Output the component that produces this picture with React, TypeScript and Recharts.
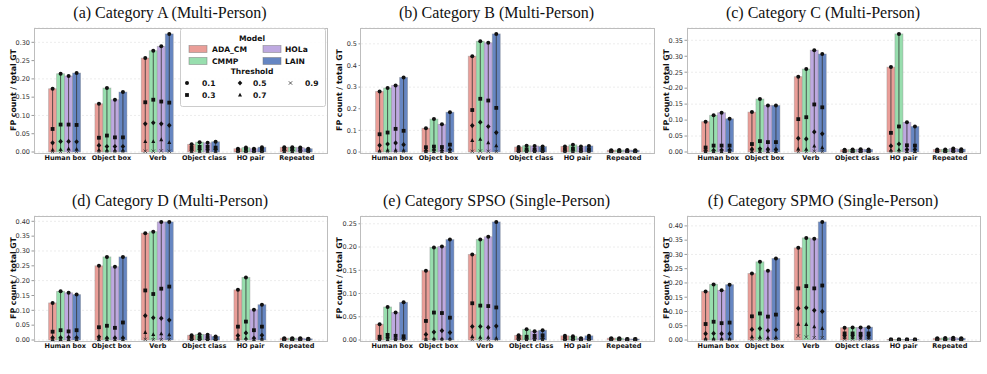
import React from "react";
import { BarChart, Bar, XAxis, YAxis, CartesianGrid } from "recharts";

const categories = ["Human box", "Object box", "Verb", "Object class", "HO pair", "Repeated"];
const models = ["ADA_CM", "CMMP", "HOLa", "LAIN"];
const thresholds = ["0.1", "0.3", "0.5", "0.7", "0.9"];
const modelColors = ["#EA9E98", "#98DEAE", "#BEA9E0", "#6686C2"];

// FP / GT per category; each row holds thresholds 0.1, 0.3, 0.5, 0.7, 0.9
const catA: Record<string, number[][]> = {
  ADA_CM: [[0.173, 0.063, 0.025, 0.006, 0.001], [0.132, 0.039, 0.018, 0.006, 0.001], [0.257, 0.136, 0.077, 0.029, 0.002], [0.021, 0.012, 0.005, 0.002, 0], [0.009, 0.005, 0.002, 0.001, 0], [0.013, 0.008, 0.004, 0.001, 0]],
  CMMP: [[0.214, 0.075, 0.029, 0.007, 0.001], [0.175, 0.045, 0.015, 0.005, 0.001], [0.277, 0.143, 0.08, 0.029, 0.002], [0.027, 0.014, 0.007, 0.002, 0], [0.012, 0.006, 0.002, 0.001, 0], [0.013, 0.008, 0.004, 0.001, 0]],
  HOLa: [[0.208, 0.075, 0.029, 0.009, 0.001], [0.143, 0.04, 0.015, 0.005, 0.001], [0.289, 0.138, 0.077, 0.034, 0.003], [0.025, 0.014, 0.006, 0.002, 0], [0.009, 0.005, 0.002, 0.001, 0], [0.012, 0.007, 0.003, 0.001, 0]],
  LAIN: [[0.216, 0.074, 0.028, 0.008, 0.001], [0.164, 0.04, 0.015, 0.005, 0.001], [0.323, 0.135, 0.073, 0.026, 0.002], [0.028, 0.012, 0.007, 0.002, 0], [0.013, 0.006, 0.002, 0.001, 0], [0.009, 0.005, 0.002, 0.001, 0]],
};

const catB: Record<string, number[][]> = {
  ADA_CM: [[0.28, 0.082, 0.031, 0.006, 0.001], [0.11, 0.022, 0.006, 0.002, 0], [0.443, 0.194, 0.122, 0.054, 0.003], [0.023, 0.01, 0.004, 0.001, 0], [0.026, 0.012, 0.005, 0.001, 0], [0.008, 0.004, 0.002, 0.001, 0]],
  CMMP: [[0.296, 0.09, 0.037, 0.009, 0.001], [0.152, 0.025, 0.009, 0.002, 0], [0.512, 0.246, 0.138, 0.059, 0.004], [0.029, 0.012, 0.005, 0.001, 0], [0.033, 0.015, 0.006, 0.002, 0], [0.009, 0.004, 0.002, 0.001, 0]],
  HOLa: [[0.308, 0.107, 0.042, 0.009, 0.001], [0.128, 0.023, 0.007, 0.002, 0], [0.505, 0.238, 0.118, 0.043, 0.003], [0.028, 0.011, 0.005, 0.001, 0], [0.025, 0.011, 0.004, 0.001, 0], [0.009, 0.004, 0.002, 0.001, 0]],
  LAIN: [[0.345, 0.098, 0.034, 0.008, 0.001], [0.184, 0.034, 0.011, 0.003, 0], [0.546, 0.204, 0.09, 0.029, 0.002], [0.025, 0.01, 0.004, 0.001, 0], [0.028, 0.012, 0.005, 0.001, 0], [0.008, 0.004, 0.002, 0.001, 0]],
};

const catC: Record<string, number[][]> = {
  ADA_CM: [[0.095, 0.014, 0.004, 0.001, 0], [0.125, 0.025, 0.009, 0.002, 0], [0.236, 0.103, 0.043, 0.01, 0.001], [0.007, 0.003, 0.001, 0, 0], [0.266, 0.06, 0.019, 0.006, 0.001], [0.008, 0.004, 0.001, 0, 0]],
  CMMP: [[0.115, 0.02, 0.005, 0.001, 0], [0.166, 0.034, 0.01, 0.002, 0], [0.26, 0.109, 0.041, 0.009, 0.001], [0.008, 0.003, 0.001, 0, 0], [0.37, 0.08, 0.025, 0.007, 0.001], [0.008, 0.004, 0.001, 0, 0]],
  HOLa: [[0.123, 0.02, 0.006, 0.001, 0], [0.146, 0.031, 0.009, 0.002, 0], [0.319, 0.149, 0.063, 0.019, 0.002], [0.009, 0.004, 0.001, 0, 0], [0.093, 0.021, 0.008, 0.002, 0], [0.011, 0.005, 0.002, 0, 0]],
  LAIN: [[0.104, 0.02, 0.006, 0.001, 0], [0.146, 0.031, 0.008, 0.002, 0], [0.307, 0.14, 0.057, 0.014, 0.001], [0.008, 0.003, 0.001, 0, 0], [0.08, 0.02, 0.008, 0.002, 0], [0.009, 0.004, 0.001, 0, 0]],
};

const catD: Record<string, number[][]> = {
  ADA_CM: [[0.125, 0.028, 0.008, 0.002, 0], [0.25, 0.043, 0.011, 0.002, 0], [0.36, 0.167, 0.082, 0.026, 0.002], [0.016, 0.007, 0.002, 0, 0], [0.169, 0.045, 0.015, 0.004, 0], [0.006, 0.003, 0.001, 0, 0]],
  CMMP: [[0.164, 0.033, 0.008, 0.002, 0], [0.28, 0.048, 0.006, 0.001, 0], [0.365, 0.155, 0.075, 0.019, 0.001], [0.019, 0.008, 0.002, 0, 0], [0.211, 0.062, 0.024, 0.006, 0], [0.006, 0.003, 0.001, 0, 0]],
  HOLa: [[0.159, 0.029, 0.009, 0.002, 0], [0.247, 0.041, 0.007, 0.001, 0], [0.398, 0.173, 0.073, 0.021, 0.001], [0.018, 0.007, 0.002, 0, 0], [0.102, 0.033, 0.006, 0.001, 0], [0.006, 0.003, 0.001, 0, 0]],
  LAIN: [[0.153, 0.033, 0.008, 0.002, 0], [0.28, 0.059, 0.007, 0.001, 0], [0.398, 0.18, 0.067, 0.018, 0.001], [0.012, 0.005, 0.001, 0, 0], [0.119, 0.045, 0.016, 0.004, 0], [0.004, 0.002, 0.001, 0, 0]],
};

const catSPSO: Record<string, number[][]> = {
  ADA_CM: [[0.034, 0.007, 0.002, 0, 0], [0.149, 0.041, 0.012, 0.002, 0], [0.184, 0.079, 0.029, 0.008, 0.001], [0.01, 0.005, 0.002, 0, 0], [0.009, 0.004, 0.001, 0, 0], [0.004, 0.002, 0.001, 0, 0]],
  CMMP: [[0.071, 0.011, 0.005, 0.001, 0], [0.199, 0.059, 0.017, 0.003, 0], [0.216, 0.074, 0.029, 0.006, 0.001], [0.023, 0.007, 0.002, 0, 0], [0.008, 0.004, 0.001, 0, 0], [0.004, 0.002, 0.001, 0, 0]],
  HOLa: [[0.059, 0.009, 0.002, 0, 0], [0.201, 0.058, 0.02, 0.003, 0], [0.222, 0.073, 0.027, 0.006, 0.001], [0.019, 0.009, 0.003, 0, 0], [0.004, 0.002, 0.001, 0, 0], [0.002, 0.001, 0, 0, 0]],
  LAIN: [[0.081, 0.008, 0.003, 0, 0], [0.216, 0.048, 0.016, 0.003, 0], [0.254, 0.07, 0.03, 0.004, 0.001], [0.021, 0.01, 0.003, 0, 0], [0.009, 0.004, 0.001, 0, 0], [0.002, 0.001, 0, 0, 0]],
};

const catSPMO: Record<string, number[][]> = {
  ADA_CM: [[0.17, 0.056, 0.022, 0.005, 0.001], [0.233, 0.083, 0.037, 0.012, 0.002], [0.323, 0.181, 0.111, 0.056, 0.014], [0.043, 0.023, 0.015, 0.009, 0.003], [0.002, 0.001, 0, 0, 0], [0.006, 0.003, 0.001, 0, 0]],
  CMMP: [[0.195, 0.064, 0.023, 0.005, 0.001], [0.274, 0.093, 0.04, 0.01, 0.002], [0.358, 0.189, 0.113, 0.055, 0.01], [0.044, 0.023, 0.015, 0.009, 0.003], [0.002, 0.001, 0, 0, 0], [0.007, 0.003, 0.001, 0, 0]],
  HOLa: [[0.174, 0.059, 0.022, 0.005, 0.001], [0.243, 0.082, 0.033, 0.008, 0.001], [0.355, 0.181, 0.104, 0.047, 0.008], [0.044, 0.022, 0.014, 0.008, 0.003], [0.002, 0.001, 0, 0, 0], [0.008, 0.004, 0.001, 0, 0]],
  LAIN: [[0.194, 0.061, 0.022, 0.005, 0.001], [0.286, 0.089, 0.036, 0.009, 0.002], [0.414, 0.191, 0.1, 0.041, 0.008], [0.045, 0.023, 0.015, 0.009, 0.003], [0.002, 0.001, 0, 0, 0], [0.006, 0.003, 0.001, 0, 0]],
};

const ticksA = [0, 0.05, 0.1, 0.15, 0.2, 0.25, 0.3];
const ticksB = [0, 0.1, 0.2, 0.3, 0.4, 0.5];
const ticksC = [0, 0.05, 0.1, 0.15, 0.2, 0.25, 0.3, 0.35];
const ticksD = [0, 0.05, 0.1, 0.15, 0.2, 0.25, 0.3, 0.35, 0.4];
const ticksE = [0, 0.05, 0.1, 0.15, 0.2, 0.25];
const ticksF = [0, 0.05, 0.1, 0.15, 0.2, 0.25, 0.3, 0.35, 0.4];

const SANS = "'DejaVu Sans', sans-serif";
const SERIF = "'Liberation Serif', 'Times New Roman', serif";

const PANEL_W = 330;
const PANEL_H = 170;
const PLOT = { left: 34, top: 28, right: 3.5, bottom: 18 };

function Marker({ kind, x, y }: { kind: number; x: number; y: number }) {
  const c = "#111";
  if (kind === 0) return <circle cx={x} cy={y} r={2} fill={c} />;
  if (kind === 1) return <rect x={x - 1.9} y={y - 1.9} width={3.8} height={3.8} fill={c} />;
  if (kind === 2)
    return <polygon points={`${x},${y - 2.6} ${x + 2.3},${y} ${x},${y + 2.6} ${x - 2.3},${y}`} fill={c} />;
  if (kind === 3)
    return <polygon points={`${x},${y - 2.2} ${x + 2},${y + 1.6} ${x - 2},${y + 1.6}`} fill={c} />;
  return (
    <g stroke="#333" strokeWidth={0.8}>
      <line x1={x - 1.7} y1={y - 1.7} x2={x + 1.7} y2={y + 1.7} />
      <line x1={x - 1.7} y1={y + 1.7} x2={x + 1.7} y2={y - 1.7} />
    </g>
  );
}

// bar = FP at threshold 0.1; the other thresholds sit on the bar's own value scale
function ThresholdBar(props: any) {
  const { x, y, width, height, fill, payload, model } = props;
  const levels: number[] = payload.levels[model];
  const top = levels[0];
  const base = y + height;
  const k = top > 0 ? height / top : 0;
  const py = (v: number) => base - v * k;
  const cx = x + width / 2;
  return (
    <g>
      <rect x={x} y={y} width={width} height={height} fill={fill} stroke="#8a8a8a" strokeOpacity={0.45} strokeWidth={0.8} />
      <line x1={cx} x2={cx} y1={py(levels[4])} y2={py(levels[0])} stroke="#333" strokeWidth={0.8} />
      {levels.map((v, i) => (
        <Marker key={i} kind={i} x={cx} y={py(v)} />
      ))}
    </g>
  );
}

function buildRows(d: Record<string, number[][]>) {
  return categories.map((cat, i) => {
    const row: any = { cat, levels: {} };
    models.forEach((m) => {
      row[m] = d[m][i][0];
      row.levels[m] = d[m][i];
    });
    return row;
  });
}

function ModelLegend() {
  const patch = (x: number, y: number, color: string) => (
    <rect x={x} y={y - 3.5} width={18} height={7} fill={color} stroke="#777" strokeOpacity={0.6} strokeWidth={0.8} />
  );
  const txt = { fontFamily: SANS, fontSize: 7.6, fontWeight: 700, fill: "#111" } as const;
  return (
    <svg width={146} height={79} style={{ position: "absolute", left: 180, top: 28 }}>
      <rect x={0.5} y={0.5} width={145} height={78} rx={2} fill="#fff" fillOpacity={0.85} stroke="#cccccc" />
      <text x={72} y={10} textAnchor="middle" dominantBaseline="central" {...txt}>Model</text>
      {patch(9, 21, modelColors[0])}
      <text x={32} y={21} dominantBaseline="central" {...txt}>{models[0]}</text>
      {patch(83, 21, modelColors[2])}
      <text x={105} y={21} dominantBaseline="central" {...txt}>{models[2]}</text>
      {patch(9, 33, modelColors[1])}
      <text x={32} y={33} dominantBaseline="central" {...txt}>{models[1]}</text>
      {patch(83, 33, modelColors[3])}
      <text x={105} y={33} dominantBaseline="central" {...txt}>{models[3]}</text>
      <text x={72} y={43.5} textAnchor="middle" dominantBaseline="central" {...txt}>Threshold</text>
      <Marker kind={0} x={7} y={55} />
      <text x={22} y={55} dominantBaseline="central" {...txt}>{thresholds[0]}</text>
      <Marker kind={2} x={60} y={55} />
      <text x={73} y={55} dominantBaseline="central" {...txt}>{thresholds[2]}</text>
      <Marker kind={4} x={110.5} y={55} />
      <text x={125} y={55} dominantBaseline="central" {...txt}>{thresholds[4]}</text>
      <Marker kind={1} x={7} y={67} />
      <text x={22} y={67} dominantBaseline="central" {...txt}>{thresholds[1]}</text>
      <Marker kind={3} x={60} y={67} />
      <text x={73} y={67} dominantBaseline="central" {...txt}>{thresholds[3]}</text>
    </svg>
  );
}

interface PanelProps {
  title: string;
  data: Record<string, number[][]>;
  ticks: number[];
  digits: number;
  left: number;
  top: number;
  legend?: boolean;
}

function Panel({ title, data, ticks, digits, left, top, legend }: PanelProps) {
  const rows = buildRows(data);
  const peak = Math.max(...models.flatMap((m) => data[m].map((r) => r[0])));
  const ymax = peak * 1.05;
  return (
    <div style={{ position: "absolute", left, top, width: PANEL_W, height: PANEL_H }}>
      <div
        style={{
          position: "absolute",
          left: 170,
          top: 13,
          transform: "translate(-50%, -50%)",
          whiteSpace: "nowrap",
          fontFamily: SERIF,
          fontSize: 16,
          color: "#111",
        }}
      >
        {title}
      </div>
      <div
        style={{
          position: "absolute",
          left: 12.5,
          top: 90,
          transform: "translate(-50%, -50%) rotate(-90deg)",
          whiteSpace: "nowrap",
          fontFamily: SANS,
          fontSize: 7.8,
          fontWeight: 700,
          color: "#111",
        }}
      >
        FP count / total GT
      </div>
      <div style={{ position: "absolute", left: 0, top: 0 }}>
        <BarChart
          width={PANEL_W}
          height={PANEL_H}
          data={rows}
          margin={{ top: PLOT.top, right: PLOT.right, bottom: 0, left: 0 }}
          barCategoryGap={6.6}
          barGap={0}
        >
          <CartesianGrid vertical={false} stroke="#ececec" strokeDasharray="2 2" />
          <XAxis
            dataKey="cat"
            height={PLOT.bottom}
            padding={{ left: 8, right: 6.5 }}
            interval={0}
            tickLine={false}
            tickSize={0}
            tickMargin={3}
            axisLine={false}
            tick={{ fontFamily: SANS, fontSize: 6.5, fontWeight: 700, fill: "#111" }}
          />
          <YAxis
            type="number"
            domain={[0, ymax]}
            ticks={ticks}
            width={PLOT.left}
            tickSize={2.5}
            tickMargin={1.5}
            tickLine={{ stroke: "#999" }}
            axisLine={false}
            tickFormatter={(v: number) => v.toFixed(digits)}
            tick={{ fontFamily: SANS, fontSize: 6.5, fill: "#333" }}
          />
          {models.map((m, i) => (
            <Bar
              key={m}
              dataKey={m}
              fill={modelColors[i]}
              isAnimationActive={false}
              shape={(p: any) => <ThresholdBar {...p} model={m} />}
            />
          ))}
        </BarChart>
      </div>
      {/* axes frame around the plot area */}
      <div
        style={{
          position: "absolute",
          left: PLOT.left - 0.5,
          top: PLOT.top - 0.5,
          width: PANEL_W - PLOT.left - PLOT.right,
          height: PANEL_H - PLOT.top - PLOT.bottom,
          border: "1px solid #bdbdbd",
          pointerEvents: "none",
        }}
      />
      {legend && <ModelLegend />}
    </div>
  );
}

export default function App() {
  return (
    <div style={{ position: "fixed", left: 0, top: 0, width: 987, height: 374, background: "#fff", overflow: "hidden" }}>
      <Panel title="(a) Category A (Multi-Person)" data={catA} ticks={ticksA} digits={2} left={0} top={0} legend />
      <Panel title="(b) Category B (Multi-Person)" data={catB} ticks={ticksB} digits={1} left={326.5} top={0} />
      <Panel title="(c) Category C (Multi-Person)" data={catC} ticks={ticksC} digits={2} left={653} top={0} />
      <Panel title="(d) Category D (Multi-Person)" data={catD} ticks={ticksD} digits={2} left={0} top={188} />
      <Panel title="(e) Category SPSO (Single-Person)" data={catSPSO} ticks={ticksE} digits={2} left={326.5} top={188} />
      <Panel title="(f) Category SPMO (Single-Person)" data={catSPMO} ticks={ticksF} digits={2} left={653} top={188} />
    </div>
  );
}
